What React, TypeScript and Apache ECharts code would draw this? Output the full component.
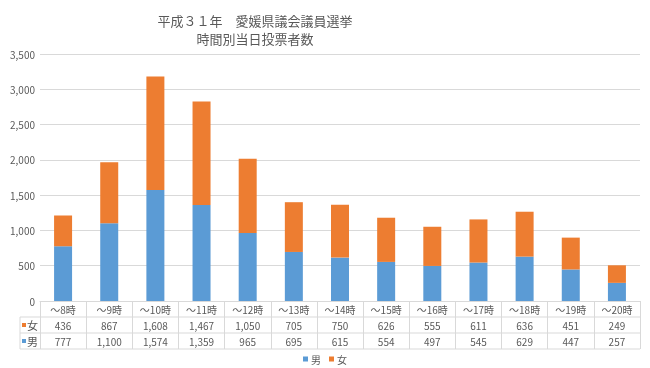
import React, { useEffect, useRef } from "react";
import * as echarts from "echarts";

const categories = ["～8時", "～9時", "～10時", "～11時", "～12時", "～13時", "～14時", "～15時", "～16時", "～17時", "～18時", "～19時", "～20時"];
const female = [436, 867, 1608, 1467, 1050, 705, 750, 626, 555, 611, 636, 451, 249];
const male = [777, 1100, 1574, 1359, 965, 695, 615, 554, 497, 545, 629, 447, 257];
const titleLines = ["平成３１年　愛媛県議会議員選挙", "時間別当日投票者数"];
const yMax = 3500;
const yInterval = 500;

const FONT = "'Noto Sans CJK JP', 'Noto Sans', sans-serif";
const TXT = "#595959";
const LINE = "#d9d9d9";
const BLUE = "#5B9BD5";
const ORANGE = "#ED7D31";

const fmt = (v: number) => v.toLocaleString("en-US");

export default function App() {
  const ref = useRef<HTMLDivElement>(null);
  useEffect(() => {
    if (!ref.current) return;
    const chart = echarts.init(ref.current, undefined, { renderer: "svg" });
    const gl = 40, gr = 640, gt = 54, gb = 301, rowH = 16;
    const labelStyle = { fontSize: 10, color: TXT, fontFamily: FONT, margin: 3, interval: 0 };
    chart.setOption({
      animation: false,
      textStyle: { fontFamily: FONT },
      grid: { left: gl, right: 650 - gr, top: gt, bottom: 368 - gb, containLabel: false },
      legend: {
        data: ["男", "女"],
        left: "center",
        top: 349,
        itemWidth: 5,
        itemHeight: 5,
        itemGap: 8,
        icon: "rect",
        textStyle: { fontSize: 10, color: TXT, fontFamily: FONT, padding: [0, 0, 0, -2] },
      },
      xAxis: [
        {
          type: "category",
          data: categories,
          position: "bottom",
          axisLine: { show: true, lineStyle: { color: LINE } },
          axisTick: { show: true, interval: 0, length: rowH * 3, lineStyle: { color: LINE } },
          axisLabel: labelStyle,
        },
        {
          type: "category",
          data: female.map(fmt),
          position: "bottom",
          offset: rowH,
          axisLine: { show: false },
          axisTick: { show: false },
          axisLabel: labelStyle,
        },
        {
          type: "category",
          data: male.map(fmt),
          position: "bottom",
          offset: rowH * 2,
          axisLine: { show: false },
          axisTick: { show: false },
          axisLabel: labelStyle,
        },
      ],
      yAxis: {
        type: "value",
        min: 0,
        max: yMax,
        interval: yInterval,
        axisLine: { show: false },
        axisTick: { show: false },
        splitLine: { lineStyle: { color: LINE } },
        axisLabel: { fontSize: 10, color: TXT, fontFamily: FONT, margin: 5, formatter: (v: number) => fmt(v) },
      },
      series: [
        { name: "男", type: "bar", stack: "total", data: male, barWidth: 18, itemStyle: { color: BLUE }, xAxisIndex: 0 },
        { name: "女", type: "bar", stack: "total", data: female, barWidth: 18, itemStyle: { color: ORANGE }, xAxisIndex: 0 },
      ],
      graphic: [
        ...titleLines.map((t, i) => ({
          type: "text",
          x: 255,
          y: 20 + i * 18,
          style: { text: t, fill: TXT, font: `13px ${FONT}`, textAlign: "center", textVerticalAlign: "middle" },
        })),
        ...[1, 2, 3].map((k) => ({
          type: "line",
          shape: { x1: 20, y1: gb + rowH * k, x2: gr, y2: gb + rowH * k },
          style: { stroke: LINE, lineWidth: 1 },
        })),
        {
          type: "line",
          shape: { x1: 20, y1: gb + rowH, x2: 20, y2: gb + rowH * 3 },
          style: { stroke: LINE, lineWidth: 1 },
        },
        ...[
          { name: "女", color: ORANGE },
          { name: "男", color: BLUE },
        ].flatMap((r, i) => [
          {
            type: "rect",
            shape: { x: 22, y: gb + rowH * (i + 1) + 6, width: 4, height: 4 },
            style: { fill: r.color },
          },
          {
            type: "text",
            x: 27,
            y: gb + rowH * (i + 1) + 8,
            style: { text: r.name, fill: TXT, font: `11px ${FONT}`, textVerticalAlign: "middle" },
          },
        ]),
      ],
    });
    return () => chart.dispose();
  }, []);
  return <div ref={ref} style={{ position: "fixed", left: 0, top: 0, width: 650, height: 368 }} />;
}
